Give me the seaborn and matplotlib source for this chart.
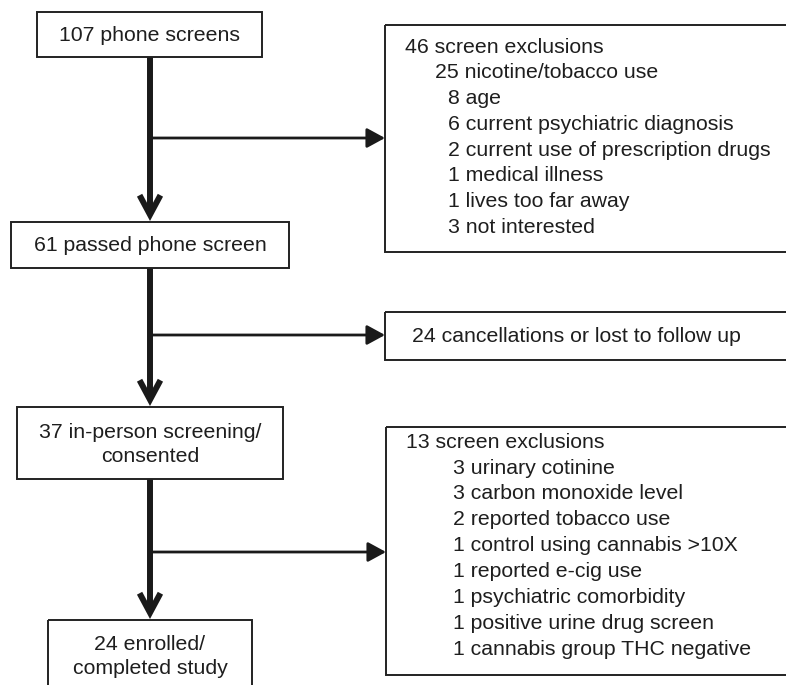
import matplotlib
matplotlib.use("Agg")
import matplotlib.pyplot as plt
from matplotlib.patches import Rectangle
import seaborn as sns

# ---------------- data (texts) ----------------
main_labels = [
    ["107 phone screens"],
    ["61 passed phone screen"],
    ["37 in-person screening/", "consented"],
    ["24 enrolled/", "completed study"],
]
excl1_header = "46 screen exclusions"
excl1_sub = ["25 nicotine/tobacco use"]
excl1_items = [
    "8 age",
    "6 current psychiatric diagnosis",
    "2 current use of prescription drugs",
    "1 medical illness",
    "1 lives too far away",
    "3 not interested",
]
cancel_label = "24 cancellations or lost to follow up"
excl2_header = "13 screen exclusions"
excl2_items = [
    "3 urinary cotinine",
    "3 carbon monoxide level",
    "2 reported tobacco use",
    "1 control using cannabis >10X",
    "1 reported e-cig use",
    "1 psychiatric comorbidity",
    "1 positive urine drug screen",
    "1 cannabis group THC negative",
]

# ---------------- layout (pixels) ----------------
main_boxes = [  # x0, y0, x1, y1
    (37, 12, 262, 57),
    (11, 222, 289, 268),
    (17, 407, 283, 479),
    (48, 620, 252, 700),
]
main_text_y = [[35], [245], [432, 456], [645, 668]]
side_boxes = [
    (385, 25, 800, 252),
    (385, 312, 800, 360),
    (386, 427, 800, 675),
]
branch_y = [138, 335, 552]
spine_x = 150

sns.set_theme(style="white")
plt.rcParams["font.family"] = ["Liberation Sans", "DejaVu Sans"]

FS = 15.3
TC = "#1e1e1e"
LC = "#1a1a1a"

fig = plt.figure(figsize=(7.86, 6.85), dpi=100)
ax = fig.add_axes([0, 0, 1, 1])
ax.set_xlim(0, 786)
ax.set_ylim(685, 0)
ax.axis("off")

def box(b):
    x0, y0, x1, y1 = b
    ax.add_patch(Rectangle((x0, y0), x1 - x0, y1 - y0, fill=False,
                           lw=1.4, ec="#222222", zorder=3))

for b, lines, ys in zip(main_boxes, main_labels, main_text_y):
    box(b)
    cx = (b[0] + b[2]) / 2
    for t, y in zip(lines, ys):
        ax.text(cx, y, t, ha="center", va="center", fontsize=FS, color=TC)

for b in side_boxes:
    box(b)

# side texts
ax.text(405, 47, excl1_header, ha="left", va="center", fontsize=FS, color=TC)
y = 47 + 25.9
for t in excl1_sub:
    ax.text(435, y, t, ha="left", va="center", fontsize=FS, color=TC)
    y += 25.9
for t in excl1_items:
    ax.text(448, y, t, ha="left", va="center", fontsize=FS, color=TC)
    y += 25.7

ax.text(412, 336, cancel_label, ha="left", va="center", fontsize=FS, color=TC)

ax.text(406, 442, excl2_header, ha="left", va="center", fontsize=FS, color=TC)
y = 442 + 26
for t in excl2_items:
    ax.text(453, y, t, ha="left", va="center", fontsize=FS, color=TC)
    y += 25.9

# vertical thick arrows with chevron heads
for i in range(3):
    y_start = main_boxes[i][3]
    y_end = main_boxes[i + 1][1] - 1
    ax.annotate("", xy=(spine_x, y_end), xytext=(spine_x, y_start),
                arrowprops=dict(arrowstyle="->,head_length=14,head_width=7.5",
                                mutation_scale=1, lw=4.3, color=LC,
                                shrinkA=0, shrinkB=0, capstyle="butt",
                                joinstyle="miter"),
                zorder=2)

# horizontal branch arrows with filled heads
for by, sb in zip(branch_y, side_boxes):
    ax.annotate("", xy=(sb[0], by), xytext=(spine_x, by),
                arrowprops=dict(arrowstyle="-|>,head_length=11,head_width=6",
                                mutation_scale=1, lw=2.0, color=LC,
                                shrinkA=0, shrinkB=0),
                zorder=2)

fig.savefig("out.png", dpi=100, facecolor="white")
